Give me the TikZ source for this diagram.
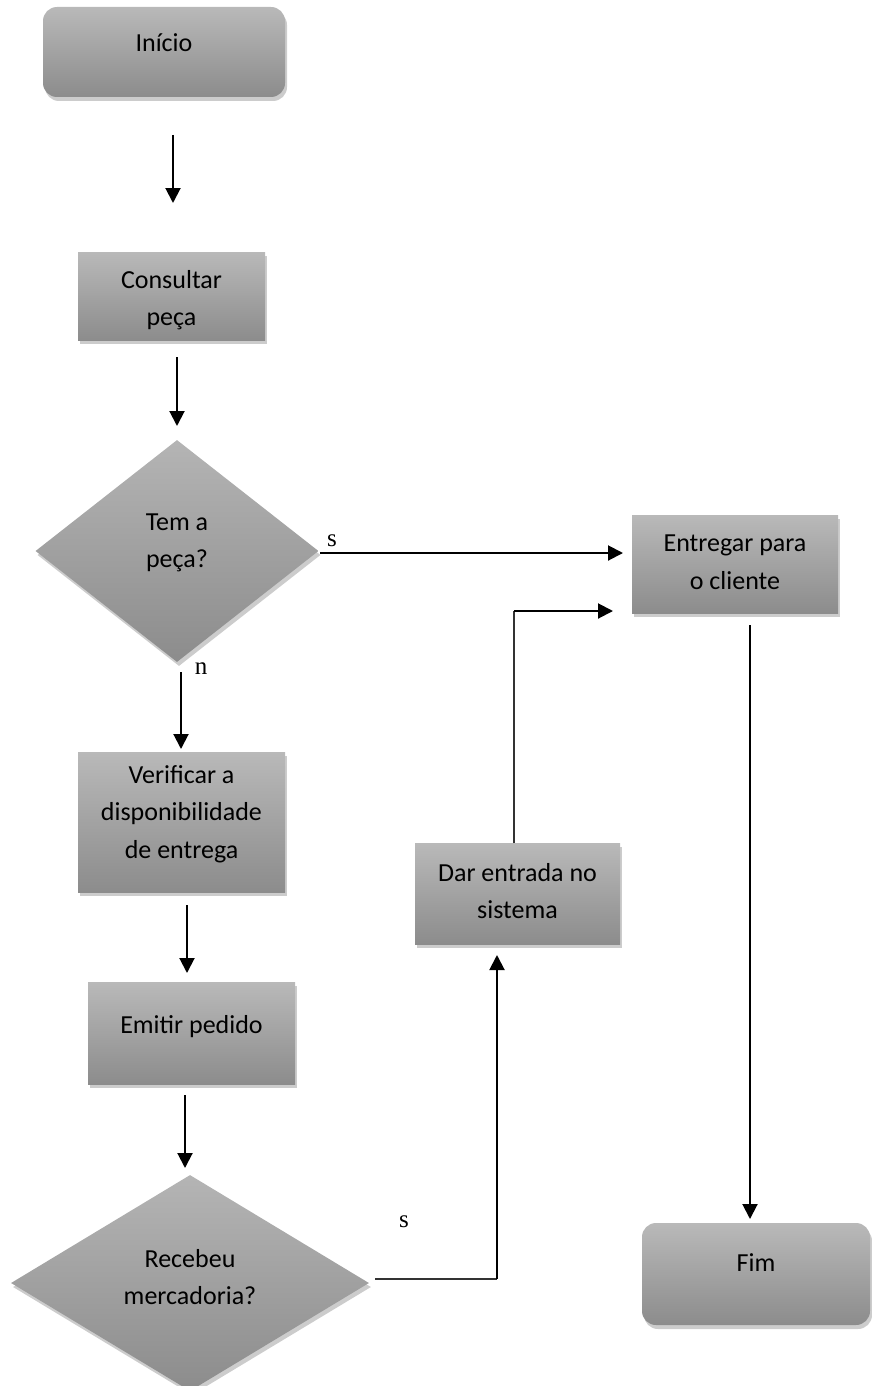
\documentclass[tikz,border=0pt]{standalone}
\usepackage{fontspec}
\setmainfont{Carlito}
\newfontfamily\labelfont{Liberation Serif}
\usetikzlibrary{shapes.geometric,shadows,arrows.meta}
\definecolor{gTop}{HTML}{B9B9B9}
\definecolor{gBot}{HTML}{8C8C8C}
\begin{document}
\begin{tikzpicture}[x=1pt,y=-1pt,
  shade box/.style={inner sep=0pt, draw=none, top color=gTop, bottom color=gBot,
    drop shadow={shadow xshift=2pt,shadow yshift=-4pt,opacity=0.2,fill=black}},
  procbox/.style={shade box, rectangle},
  termbox/.style={shade box, rectangle, rounded corners=14pt},
  decbox/.style={shade box, diamond, top color=gTop!90!gBot},
  txt/.style={font=\fontsize{26}{37.5}\selectfont, align=center, inner sep=0pt, text=black},
  lbl/.style={font=\labelfont\fontsize{25}{30}\selectfont, inner sep=0pt},
  arr/.style={line width=2pt, -{Triangle[length=15pt,width=15pt]}},
  thinline/.style={line width=1.2pt, draw=black!80}
]
\useasboundingbox (0,0) rectangle (871,1386);

% shapes
\node[termbox, minimum width=242pt, minimum height=90pt] (inicio) at (164,52) {};
\node[procbox, minimum width=187pt, minimum height=88pt] (consultar) at (171.5,296) {};
\node[decbox, minimum width=283pt, minimum height=222pt] (tem) at (177,551) {};
\node[procbox, minimum width=206pt, minimum height=98pt] (entregar) at (735,564) {};
\node[procbox, minimum width=207pt, minimum height=140pt] (verificar) at (181.5,822) {};
\node[procbox, minimum width=205pt, minimum height=101pt] (dar) at (517.5,893.5) {};
\node[procbox, minimum width=207pt, minimum height=102pt] (emitir) at (191.5,1033) {};
\node[decbox, minimum width=358pt, minimum height=216pt] (recebeu) at (190,1283) {};
\node[termbox, minimum width=228pt, minimum height=102pt] (fim) at (756,1274) {};

% texts
\node[txt] (tInicio) at (164,43) {Início};
\node[txt] (tConsultar) at (171.5,300) {Consultar\\peça};
\node[txt] (tTem) at (177,543) {Tem a\\peça?};
\node[txt] (tEntregar) at (735,562) {Entregar para\\o cliente};
\node[txt] (tVerificar) at (181.5,814) {Verificar a\\disponibilidade\\de entrega};
\node[txt] (tDar) at (517.5,891) {Dar entrada no\\sistema};
\node[txt] (tEmitir) at (191.5,1027) {Emitir pedido};
\node[txt] (tRecebeu) at (190,1277) {Recebeu\\mercadoria?};
\node[txt] (tFim) at (756,1263) {Fim};

% labels
\node[lbl] (s1) at (332,541) {s};
\node[lbl] (n1) at (201,669) {n};
\node[lbl] (s2) at (404,1222) {s};

% connector endpoints
\coordinate (a1s) at (173,135); \coordinate (a1e) at (173,203);
\coordinate (a2s) at (177,357); \coordinate (a2e) at (177,426);
\coordinate (a3s) at (320,553); \coordinate (a3e) at (623,553);
\coordinate (a4s) at (181,672); \coordinate (a4e) at (181,749);
\coordinate (a5s) at (187,905); \coordinate (a5e) at (187,973);
\coordinate (a6s) at (185,1095); \coordinate (a6e) at (185,1168);
\coordinate (a7s) at (375,1279); \coordinate (a7c) at (497,1279); \coordinate (a7e) at (497,955);
\coordinate (a8s) at (514,843); \coordinate (a8c) at (514,611); \coordinate (a8e) at (613,611);
\coordinate (a9s) at (750,625); \coordinate (a9e) at (750,1219);

\draw[arr] (a1s) -- (a1e);
\draw[arr] (a2s) -- (a2e);
\draw[arr] (a3s) -- (a3e);
\draw[arr] (a4s) -- (a4e);
\draw[arr] (a5s) -- (a5e);
\draw[arr] (a6s) -- (a6e);
\draw[thinline] (a7s) -- (a7c);
\draw[arr] (a7c) -- (a7e);
\draw[thinline] (a8s) -- (a8c);
\draw[arr] (a8c) -- (a8e);
\draw[arr] (a9s) -- (a9e);
\end{tikzpicture}
\end{document}
